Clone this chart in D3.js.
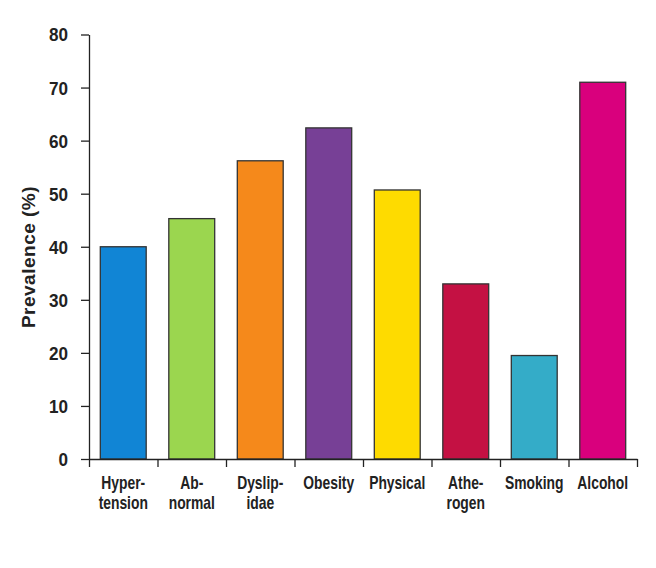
<!DOCTYPE html>
<html>
<head>
<meta charset="utf-8">
<script src="https://cdn.jsdelivr.net/npm/d3@7"></script>
<style>
  html, body { margin: 0; padding: 0; background: #fff; }
  svg { display: block; }
  .lbl { font-family: "Liberation Sans", Arial, Helvetica, sans-serif; font-weight: bold; fill: #222; }
</style>
</head>
<body>
<svg id="chart" width="656" height="568"></svg>
<script>
const categories = [["Hyper-", "tension"], ["Ab-", "normal"], ["Dyslip-", "idae"], ["Obesity"], ["Physical"], ["Athe-", "rogen"], ["Smoking"], ["Alcohol"]];
const values = [40.0, 45.3, 56.2, 62.4, 50.7, 33.0, 19.5, 71.0];
const colors = ["#1185d5", "#9bd64f", "#f5891b", "#774096", "#fedb00", "#c41143", "#34acc8", "#d9007d"];
const yTicks = [0, 10, 20, 30, 40, 50, 60, 70, 80];
const yTitle = "Prevalence (%)";

(function () {
const svg = d3.select("#chart");
const mLeft = 89, mRight = 637, mTop = 34.5, mBottom = 459;
const idx = d3.range(values.length);
const xScaleX = 0.77, yTickScaleX = 0.9;

const x = d3.scaleBand().domain(idx).range([mLeft, mRight]).paddingInner(0.33).paddingOuter(0.165);
const y = d3.scaleLinear().domain([0, 80]).range([mBottom, mTop]);
const xb = d3.scaleLinear().domain([0, values.length]).range([mLeft, mRight]);

// bars
svg.append("g").selectAll("rect").data(idx).join("rect")
  .attr("x", i => x(i))
  .attr("y", i => y(values[i]))
  .attr("width", x.bandwidth())
  .attr("height", i => y(0) - y(values[i]))
  .attr("fill", i => colors[i])
  .attr("stroke", "#333")
  .attr("stroke-width", 1.3);

// y axis
const gy = svg.append("g").attr("transform", `translate(${mLeft},0)`)
  .call(d3.axisLeft(y).tickValues(yTicks).tickSize(8).tickPadding(13).tickSizeOuter(0));
gy.select(".domain").attr("stroke", "#222").attr("stroke-width", 1.3);
gy.selectAll(".tick line").attr("stroke", "#222").attr("stroke-width", 1.3);
gy.selectAll(".tick text")
  .attr("class", "lbl")
  .style("font-size", "19px")
  .attr("fill", "#222")
  .attr("x", -21 / yTickScaleX)
  .attr("dy", "0.34em")
  .attr("transform", `scale(${yTickScaleX},1)`);

// x axis
const gx = svg.append("g").attr("transform", `translate(0,${mBottom})`)
  .call(d3.axisBottom(xb).tickValues(d3.range(values.length + 1)).tickFormat("").tickSize(8).tickSizeOuter(0));
gx.select(".domain").attr("stroke", "#222").attr("stroke-width", 1.3);
gx.selectAll(".tick line").attr("stroke", "#222").attr("stroke-width", 1.3);

// x labels
const xl = svg.append("g").selectAll("text").data(idx).join("text")
  .attr("class", "lbl")
  .attr("text-anchor", "middle")
  .style("font-size", "18px")
  .attr("transform", i => `translate(${x(i) + x.bandwidth() / 2},489) scale(${xScaleX},1)`);
xl.selectAll("tspan").data(i => categories[i]).join("tspan")
  .attr("x", 0)
  .attr("dy", (d, k) => k === 0 ? 0 : 20)
  .text(d => d);

// y title
svg.append("text")
  .attr("class", "lbl")
  .attr("text-anchor", "middle")
  .style("font-size", "19px")
  .style("letter-spacing", "0.5px")
  .attr("transform", `translate(35,257) rotate(-90)`)
  .text(yTitle);
})();
</script>
</body>
</html>
